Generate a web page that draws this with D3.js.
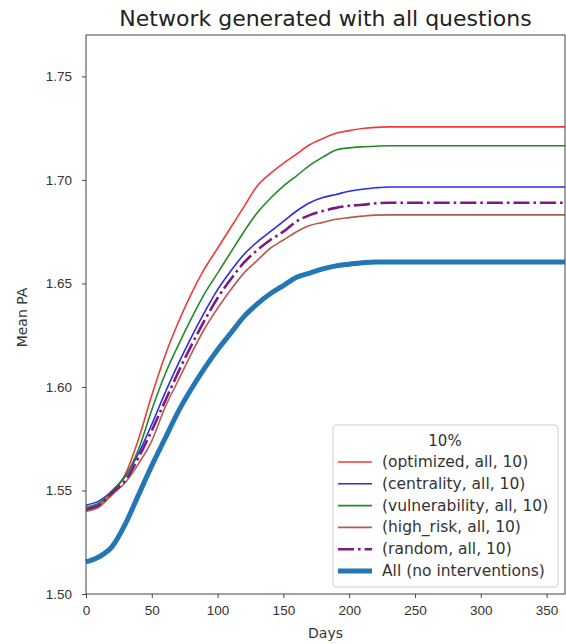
<!DOCTYPE html>
<html>
<head>
<meta charset="utf-8">
<title>Network generated with all questions</title>
<script src="https://d3js.org/d3.v7.min.js"></script>
<style>
  body { margin: 0; background: #fff; }
  svg { font-family: "DejaVu Sans", sans-serif; }
  .axis text { fill: #333; font-size: 13.5px; }
  .axis path, .axis line { stroke: #444; }
</style>
</head>
<body>
<svg id="chart" width="566" height="644"></svg>
<script>
// days sampled from the curves
var days = [0, 10, 20, 30, 40, 50, 60, 70, 80, 90, 100, 110, 120, 130, 140, 150, 160, 170, 180, 190, 200, 210, 220, 230, 364];

var optimized = [1.540, 1.543, 1.549, 1.558, 1.575, 1.596, 1.615, 1.631, 1.645, 1.657, 1.667, 1.677, 1.687, 1.697, 1.703, 1.708, 1.7125, 1.717, 1.720, 1.7225, 1.7238, 1.7248, 1.7254, 1.7256, 1.7256];
var centrality = [1.543, 1.545, 1.550, 1.557, 1.568, 1.582, 1.597, 1.611, 1.624, 1.636, 1.647, 1.656, 1.664, 1.670, 1.675, 1.680, 1.685, 1.689, 1.6915, 1.693, 1.6945, 1.6955, 1.6962, 1.6966, 1.6966];
var vulnerability = [1.542, 1.544, 1.550, 1.557, 1.570, 1.589, 1.606, 1.620, 1.633, 1.645, 1.655, 1.665, 1.675, 1.684, 1.691, 1.697, 1.702, 1.707, 1.711, 1.7145, 1.7155, 1.716, 1.7163, 1.7165, 1.7165];
var highRisk = [1.540, 1.542, 1.548, 1.554, 1.563, 1.574, 1.590, 1.603, 1.616, 1.628, 1.638, 1.647, 1.655, 1.661, 1.667, 1.671, 1.675, 1.678, 1.6795, 1.681, 1.6818, 1.6825, 1.683, 1.6831, 1.6831];
var random = [1.541, 1.543, 1.549, 1.555, 1.566, 1.579, 1.593, 1.607, 1.620, 1.632, 1.643, 1.652, 1.660, 1.666, 1.671, 1.675, 1.680, 1.683, 1.685, 1.6865, 1.6875, 1.688, 1.6887, 1.689, 1.689];
var allNoInt = [1.5155, 1.518, 1.523, 1.534, 1.548, 1.562, 1.575, 1.588, 1.599, 1.609, 1.618, 1.626, 1.634, 1.640, 1.645, 1.649, 1.653, 1.655, 1.657, 1.6585, 1.6593, 1.660, 1.6603, 1.6604, 1.6604];

var xTicks = [0, 50, 100, 150, 200, 250, 300, 350];
var yTicks = [1.50, 1.55, 1.60, 1.65, 1.70, 1.75];

var series = [
  { name: "(optimized, all, 10)", values: optimized, color: "#f03a3a", width: 1.6, dash: null },
  { name: "(centrality, all, 10)", values: centrality, color: "#2a2af0", width: 1.6, dash: null },
  { name: "(vulnerability, all, 10)", values: vulnerability, color: "#1f8a2a", width: 1.6, dash: null },
  { name: "(high_risk, all, 10)", values: highRisk, color: "#b55a52", width: 1.6, dash: null },
  { name: "(random, all, 10)", values: random, color: "#7a1a82", width: 2.6, dash: "16,4,2.6,4" },
  { name: "All (no interventions)", values: allNoInt, color: "#2277b4", width: 5, dash: null }
];

var svg = d3.select("#chart");
var plotL = 86, plotR = 565, plotT = 35, plotB = 594;

var x = d3.scaleLinear().domain([0, 364]).range([plotL, plotR]);
var y = d3.scaleLinear().domain([1.5, 1.77]).range([plotB, plotT]);

// title
svg.append("text")
  .attr("x", (plotL + plotR) / 2)
  .attr("y", 26)
  .attr("text-anchor", "middle")
  .attr("fill", "#222")
  .style("font-size", "22px")
  .text("Network generated with all questions");

// lines
var line = d3.line().curve(d3.curveMonotoneX);
var lines = svg.append("g");
series.forEach(function(s) {
  var pts = days.map(function(d, i) { return [x(d), y(s.values[i])]; });
  lines.append("path")
    .attr("d", line(pts))
    .attr("fill", "none")
    .attr("stroke", s.color)
    .attr("stroke-width", s.width)
    .attr("stroke-dasharray", s.dash);
});

// axes
svg.append("g")
  .attr("class", "axis")
  .attr("transform", "translate(0," + plotB + ")")
  .call(d3.axisBottom(x).tickValues(xTicks).tickSize(4).tickPadding(7).tickSizeOuter(0));
svg.append("g")
  .attr("class", "axis")
  .attr("transform", "translate(" + plotL + ",0)")
  .call(d3.axisLeft(y).tickValues(yTicks).tickFormat(d3.format(".2f")).tickSize(4).tickPadding(10).tickSizeOuter(0));
svg.selectAll(".axis .domain").remove();

// frame
svg.append("rect")
  .attr("x", plotL).attr("y", plotT)
  .attr("width", plotR - plotL).attr("height", plotB - plotT)
  .attr("fill", "none").attr("stroke", "#444").attr("stroke-width", 1);

// axis labels
svg.append("text")
  .attr("x", (plotL + plotR) / 2).attr("y", 638)
  .attr("text-anchor", "middle").attr("fill", "#333")
  .style("font-size", "14px").text("Days");
svg.append("text")
  .attr("transform", "translate(27," + ((plotT + plotB) / 2 + 3) + ") rotate(-90)")
  .attr("text-anchor", "middle").attr("fill", "#333")
  .style("font-size", "14px").text("Mean PA");

// legend
var lg = svg.append("g").attr("transform", "translate(333,425)");
lg.append("rect")
  .attr("width", 225).attr("height", 162).attr("rx", 3)
  .attr("fill", "#fff").attr("fill-opacity", 0.85)
  .attr("stroke", "#cfcfcf");
lg.append("text")
  .attr("x", 112).attr("y", 21)
  .attr("text-anchor", "middle").attr("fill", "#333")
  .style("font-size", "15px").text("10%");
series.forEach(function(s, i) {
  var yy = 37 + i * 21.8;
  lg.append("line")
    .attr("x1", 5).attr("x2", 39).attr("y1", yy).attr("y2", yy)
    .attr("stroke", s.color).attr("stroke-width", s.width)
    .attr("stroke-dasharray", s.dash);
  lg.append("text")
    .attr("x", 49).attr("y", yy + 5)
    .attr("fill", "#333")
    .style("font-size", "15.5px").text(s.name);
});
</script>
</body>
</html>
